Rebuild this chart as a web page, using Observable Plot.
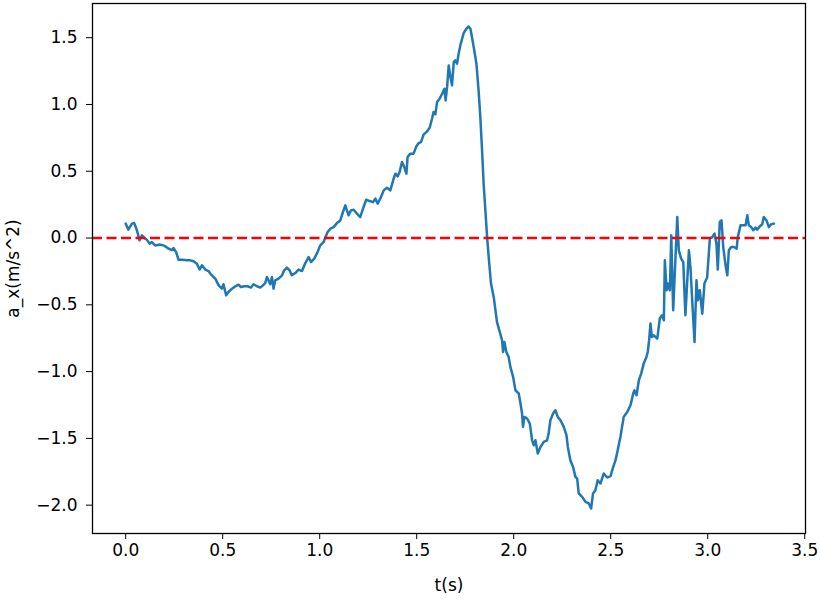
<!DOCTYPE html>
<html><head><meta charset="utf-8">
<script src="https://cdn.jsdelivr.net/npm/d3@7"></script>
<script src="https://cdn.jsdelivr.net/npm/@observablehq/plot@0.6"></script>
<style>body{margin:0;background:#fff}</style>
</head><body><div id="chart"></div>
<script>
// [t (s), a_x (m/s^2)] pairs
const phase1 = [[0.000,0.108],[0.014,0.063],[0.032,0.108],[0.044,0.112],[0.058,0.058],[0.071,-0.017],[0.084,0.020],[0.095,0.003],[0.109,-0.012],[0.123,-0.042],[0.135,-0.030],[0.152,-0.055],[0.178,-0.049],[0.199,-0.057],[0.221,-0.079],[0.238,-0.090],[0.247,-0.075],[0.260,-0.105],[0.272,-0.162],[0.290,-0.162],[0.316,-0.167],[0.333,-0.167],[0.350,-0.174],[0.367,-0.192],[0.381,-0.236],[0.393,-0.204],[0.410,-0.236],[0.427,-0.247],[0.439,-0.272],[0.462,-0.304],[0.479,-0.354],[0.496,-0.379],[0.504,-0.346],[0.518,-0.429],[0.530,-0.404],[0.548,-0.379],[0.565,-0.361],[0.582,-0.349],[0.594,-0.367],[0.611,-0.361],[0.628,-0.361],[0.646,-0.371],[0.659,-0.346],[0.677,-0.361],[0.694,-0.371],[0.708,-0.354],[0.719,-0.337],[0.728,-0.292],[0.736,-0.316],[0.745,-0.346],[0.754,-0.292],[0.762,-0.379],[0.771,-0.316],[0.788,-0.304],[0.806,-0.279],[0.817,-0.242],[0.831,-0.221],[0.845,-0.242],[0.856,-0.279],[0.874,-0.262],[0.891,-0.236],[0.909,-0.247],[0.926,-0.187],[0.943,-0.142],[0.955,-0.180],[0.972,-0.154],[0.989,-0.105],[1.003,-0.055],[1.020,-0.030],[1.029,0.003],[1.041,0.045],[1.055,0.070],[1.072,0.082],[1.089,0.112],[1.106,0.132],[1.120,0.195],[1.132,0.245],[1.149,0.170]];
const phase2 = [[1.161,0.207],[1.175,0.212],[1.192,0.183],[1.209,0.157],[1.226,0.232],[1.240,0.287],[1.257,0.277],[1.275,0.269],[1.287,0.295],[1.299,0.257],[1.316,0.307],[1.330,0.357],[1.347,0.377],[1.364,0.357],[1.381,0.444],[1.390,0.482],[1.402,0.462],[1.412,0.494],[1.424,0.569],[1.436,0.531],[1.447,0.482],[1.453,0.606],[1.467,0.632],[1.484,0.632],[1.498,0.686],[1.510,0.711],[1.522,0.718],[1.536,0.776],[1.550,0.793],[1.567,0.826],[1.579,0.893],[1.587,0.943],[1.596,0.926],[1.605,1.018],[1.618,1.043],[1.631,1.080],[1.643,1.118],[1.649,1.030],[1.657,1.135],[1.665,1.292],[1.674,1.205],[1.682,1.143],[1.691,1.317],[1.699,1.330],[1.708,1.305],[1.716,1.380],[1.725,1.442],[1.734,1.492],[1.742,1.534],[1.756,1.567],[1.768,1.584],[1.777,1.567],[1.785,1.504],[1.794,1.429],[1.808,1.305],[1.819,1.105],[1.828,0.905],[1.837,0.656],[1.845,0.407],[1.854,0.207],[1.863,0.007],[1.871,-0.142]];
const phase3 = [[1.883,-0.341],[1.897,-0.441],[1.906,-0.541],[1.914,-0.629],[1.928,-0.703],[1.940,-0.765],[1.945,-0.853],[1.952,-0.778],[1.962,-0.853],[1.974,-0.890],[1.983,-0.965],[1.997,-1.040],[2.009,-1.140],[2.026,-1.164],[2.035,-1.239],[2.043,-1.314],[2.048,-1.414],[2.055,-1.339],[2.069,-1.351],[2.083,-1.389],[2.095,-1.514],[2.103,-1.551],[2.112,-1.514],[2.124,-1.613],[2.138,-1.564],[2.155,-1.526],[2.172,-1.514],[2.180,-1.464],[2.189,-1.364],[2.203,-1.314],[2.215,-1.289],[2.227,-1.339],[2.241,-1.364],[2.258,-1.414],[2.272,-1.476],[2.279,-1.564],[2.292,-1.663],[2.306,-1.713],[2.318,-1.788],[2.327,-1.800],[2.335,-1.912],[2.353,-1.938],[2.370,-1.975],[2.387,-1.987],[2.399,-2.025],[2.409,-1.912],[2.421,-1.888],[2.433,-1.813],[2.447,-1.838],[2.464,-1.763],[2.482,-1.793],[2.499,-1.783],[2.513,-1.713],[2.525,-1.663],[2.536,-1.588],[2.550,-1.489],[2.567,-1.339],[2.585,-1.302],[2.602,-1.252],[2.616,-1.164],[2.622,-1.140],[2.633,-1.177],[2.645,-1.065],[2.657,-1.015],[2.670,-0.940],[2.684,-0.890],[2.691,-0.853],[2.698,-0.765],[2.705,-0.640],[2.712,-0.741],[2.722,-0.728],[2.740,-0.753]];
const phase4 = [[2.753,-0.603],[2.765,-0.578],[2.774,-0.616],[2.779,-0.167],[2.788,-0.391],[2.794,-0.341],[2.805,-0.391],[2.812,0.020],[2.822,-0.541],[2.834,-0.142],[2.843,0.157],[2.851,-0.092],[2.863,-0.154],[2.874,-0.180],[2.885,-0.578],[2.903,-0.092],[2.911,-0.217],[2.920,-0.466],[2.932,-0.778],[2.942,-0.316],[2.949,-0.466],[2.959,-0.391],[2.972,-0.566],[2.983,-0.341],[2.997,-0.296],[3.011,-0.004],[3.023,0.007],[3.035,0.033],[3.045,-0.042],[3.052,-0.236],[3.062,0.120],[3.071,0.132],[3.080,-0.067],[3.092,-0.204],[3.101,-0.279],[3.109,-0.092],[3.121,-0.067],[3.135,-0.067],[3.149,-0.079],[3.155,0.007],[3.169,0.095],[3.183,0.095],[3.195,0.095],[3.204,0.170],[3.212,0.095],[3.224,0.082],[3.235,0.058],[3.246,0.078],[3.255,0.063],[3.269,0.088],[3.281,0.103],[3.289,0.157],[3.303,0.132],[3.315,0.082],[3.327,0.103],[3.341,0.108]];
const xTicks = [0, 0.5, 1, 1.5, 2, 2.5, 3, 3.5];
const yTicks = [-2, -1.5, -1, -0.5, 0, 0.5, 1, 1.5];
const refLevel = [0];
const xLabel = "t(s)";
const yLabel = "a_x(m/s^2)";

const series = [...phase1, ...phase2, ...phase3, ...phase4].map(([t, a]) => ({t, a}));
const fmt = d3.format(".1f");

const chart = Plot.plot({
  width: 820, height: 599,
  marginLeft: 92, marginRight: 15, marginTop: 3, marginBottom: 66,
  style: {fontFamily: "'DejaVu Sans', sans-serif", fontSize: "17px", color: "#000", background: "#fff"},
  x: {domain: [-0.171, 3.504]},
  y: {domain: [-2.212, 1.756]},
  marks: [
    Plot.axisX({ticks: xTicks, tickFormat: fmt, tickSize: 6, tickPadding: 4, label: xLabel, labelAnchor: "center", labelArrow: "none", labelOffset: 57}),
    Plot.axisY({ticks: yTicks, tickFormat: fmt, tickSize: 6, tickPadding: 9, label: yLabel, labelAnchor: "center", labelArrow: "none", labelOffset: 86}),
    Plot.line(series, {x: "t", y: "a", stroke: "#1f77b4", strokeWidth: 2.5}),
    Plot.ruleY(refLevel, {stroke: "#ff0000", strokeWidth: 2.5, strokeDasharray: "10,4.5"}),
    Plot.frame({stroke: "#000", strokeWidth: 1.3})
  ]
});
document.getElementById("chart").appendChild(chart);
</script>
</body></html>
